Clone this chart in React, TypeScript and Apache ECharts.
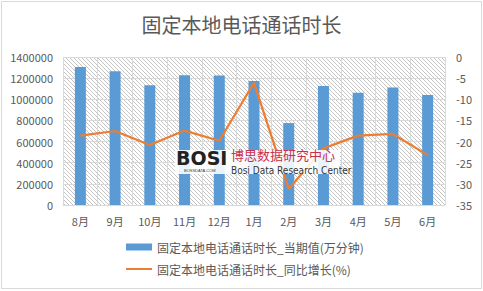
import React, { useEffect, useRef } from "react";
import * as echarts from "echarts";

const categories = ["8月", "9月", "10月", "11月", "12月", "1月", "2月", "3月", "4月", "5月", "6月"];
const currentValues = [1305000, 1265000, 1132000, 1228000, 1225000, 1172000, 775000, 1125000, 1062000, 1112000, 1040000];
const yoyGrowth = [-18.6, -17.5, -20.8, -17.4, -19.8, -6.1, -31.2, -21.6, -18.6, -18.2, -23.2];
const seriesNames = ["固定本地电话通话时长_当期值(万分钟)", "固定本地电话通话时长_同比增长(%)"];
const titleText = "固定本地电话通话时长";

function makeHatch() {
  const s = 4;
  const c = document.createElement("canvas");
  c.width = s;
  c.height = s;
  const ctx = c.getContext("2d")!;
  ctx.fillStyle = "#ffffff";
  ctx.fillRect(0, 0, s, s);
  ctx.strokeStyle = "#bdbdbd";
  ctx.lineWidth = 0.9;
  ctx.beginPath();
  ctx.moveTo(0, 0);
  ctx.lineTo(s, s);
  ctx.moveTo(-1, s - 1);
  ctx.lineTo(1, s + 1);
  ctx.moveTo(s - 1, -1);
  ctx.lineTo(s + 1, 1);
  ctx.stroke();
  return c;
}

export default function App() {
  const ref = useRef<HTMLDivElement>(null);
  useEffect(() => {
    if (!ref.current) return;
    const chart = echarts.init(ref.current, null, { renderer: "svg" });
    const hatch = makeHatch();
    const font = "'Noto Sans CJK SC', 'Noto Sans', sans-serif";
    const legendText = { fontSize: 12, color: "#595959", fontFamily: font };
    chart.setOption({
      animation: false,
      backgroundColor: "#ffffff",
      textStyle: { fontFamily: font },
      title: {
        text: titleText,
        left: "center",
        top: 9,
        textStyle: { fontSize: 20, fontWeight: "normal", color: "#595959", fontFamily: font },
      },
      grid: {
        left: 63,
        right: 38,
        top: 57,
        bottom: 86,
        show: true,
        borderWidth: 0,
        backgroundColor: { image: hatch, repeat: "repeat" },
      },
      legend: [
        {
          left: 126,
          top: 241,
          padding: 0,
          itemWidth: 26,
          itemHeight: 7,
          textStyle: legendText,
          data: [{ name: seriesNames[0], icon: "rect" }],
        },
        {
          left: 126,
          top: 263,
          padding: 0,
          itemWidth: 26,
          itemHeight: 2,
          textStyle: legendText,
          data: [{ name: seriesNames[1], icon: "rect" }],
        },
      ],
      xAxis: {
        type: "category",
        data: categories,
        axisLine: { lineStyle: { color: "#d9d9d9" } },
        axisTick: { show: false },
        axisLabel: { color: "#595959", fontSize: 11, margin: 10 },
        splitLine: { show: true, lineStyle: { color: "#d9d9d9" } },
      },
      yAxis: [
        {
          type: "value",
          min: 0,
          max: 1400000,
          interval: 200000,
          axisLine: { show: false },
          axisTick: { show: false },
          axisLabel: { color: "#595959", fontSize: 11, margin: 10, formatter: (v: number) => String(v) },
          splitLine: { lineStyle: { color: "#d9d9d9" } },
        },
        {
          type: "value",
          min: -35,
          max: 0,
          interval: 5,
          axisLine: { show: false },
          axisTick: { show: false },
          axisLabel: { color: "#595959", fontSize: 11, margin: 11 },
          splitLine: { show: false },
        },
      ],
      series: [
        {
          name: seriesNames[0],
          type: "bar",
          data: currentValues,
          barWidth: 11,
          itemStyle: { color: "#5b9bd5" },
          z: 2,
        },
        {
          name: seriesNames[1],
          type: "line",
          yAxisIndex: 1,
          data: yoyGrowth,
          symbol: "none",
          lineStyle: { color: "#ed7d31", width: 2.25 },
          itemStyle: { color: "#ed7d31" },
          z: 3,
        },
      ],
      graphic: [
        {
          type: "rect",
          z: 100,
          shape: { x: 1.5, y: 1.5, width: 480, height: 287 },
          style: { fill: "none", stroke: "#d9d9d9", lineWidth: 1 },
          silent: true,
        },
        {
          type: "rect",
          z: 100,
          shape: { x: 175, y: 150, width: 165, height: 24 },
          style: { fill: "rgba(255,255,255,0.88)" },
        },
        {
          type: "text",
          z: 101,
          x: 176,
          y: 148,
          style: {
            text: "BOSI",
            font: "900 19px 'DejaVu Sans', sans-serif",
            fill: "#222222",
          },
        },
        {
          type: "text",
          z: 101,
          x: 184,
          y: 168,
          style: {
            text: "BOSSDATA.COM",
            font: "4px sans-serif",
            fill: "#333333",
          },
        },
        {
          type: "text",
          z: 101,
          x: 231,
          y: 148,
          style: {
            text: "博思数据研究中心",
            font: "13px 'Noto Sans CJK SC', sans-serif",
            fill: "#c8324f",
          },
        },
        {
          type: "text",
          z: 101,
          x: 231,
          y: 165,
          style: {
            text: "Bosi Data Research Center",
            font: "10px 'Liberation Sans Narrow', 'DejaVu Sans Condensed', sans-serif",
            fill: "#333333",
          },
        },
      ],
    });
    return () => chart.dispose();
  }, []);
  return (
    <div
      ref={ref}
      style={{ position: "absolute", left: 0, top: 0, width: 483, height: 291 }}
    />
  );
}
